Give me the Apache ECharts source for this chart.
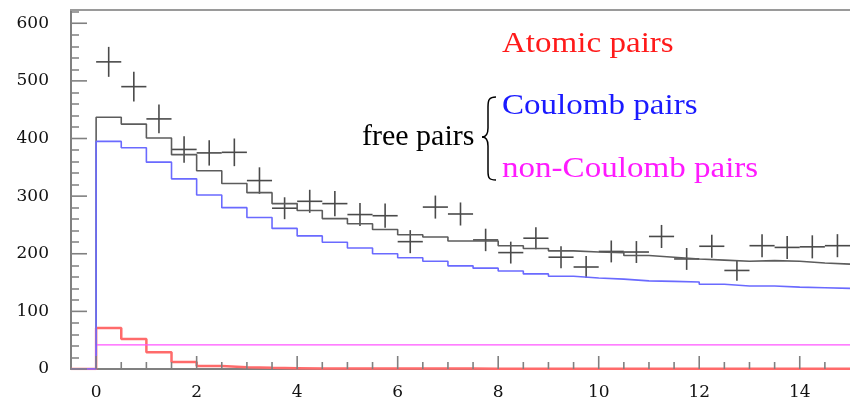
<!DOCTYPE html>
<html>
<head>
<meta charset="utf-8">
<script src="https://cdn.jsdelivr.net/npm/echarts@6/dist/echarts.min.js"></script>
<style>html,body{margin:0;padding:0;background:#fff}#c{width:850px;height:401px}</style>
</head>
<body>
<div id="c"></div>
<script>
// bin lower edges (bin width 0.5)
var binLo = [0,0.5,1,1.5,2,2.5,3,3.5,4,4.5,5,5.5,6,6.5,7,7.5,8,8.5,9,9.5,10,10.5,11,11.5,12,12.5,13,13.5,14,14.5];
var binHi = 15;
var xStart = -0.5;
// free pairs total (gray histogram)
var freeTotal = [437,425,401,372,344,322,306,287,275,261,252,242,233,229,222,222,214,209,205,203,202,197,194,191,189,187,188,187,184,182];
// Coulomb pairs (blue)
var coulomb = [395,384,359,330,302,280,263,244,231,220,210,200,193,187,179,175,170,165,161,158,156,153,152,151,147,144,144,142,141,140];
// Atomic pairs (red)
var atomic = [71,52,29,12,5,3,2,1.5,1,1,1,1,1,1,1,0.5,0.5,0.5,0.5,0.5,0.5,0.5,0.5,0.5,0.5,0.5,0.5,0.5,0.5,0.5];
// non-Coulomb pairs (magenta)
var nonCoulomb = [42,42,42,42,42,42,42,42,42,42,42,42,42,42,42,42,42,42,42,42,42,42,42,42,42,42,42,42,42,42];
// measured data points (bin centres), values and error half-heights
var dataX = [0.25,0.75,1.25,1.75,2.25,2.75,3.25,3.75,4.25,4.75,5.25,5.75,6.25,6.75,7.25,7.75,8.25,8.75,9.25,9.75,10.25,10.75,11.25,11.75,12.25,12.75,13.25,13.75,14.25,14.75];
var dataY = [533,490,434,381,375,376,327,279,291,287,268,266,221,281,269,224,202,227,194,177,204,203,230,191,213,171,214,211,212,214];
var dataErr = [26,26,25,23,22,24,23,19,20,22,20,21,20,20,20,19.5,19,19,19,19,19,19,20,19,20,18,20,20,20,20];
var halfBin = 0.25;
// axis ticks / labels
var xMajor = [0,2,4,6,8,10,12,14];
var xMinor = [0.5,1,1.5,2.5,3,3.5,4.5,5,5.5,6.5,7,7.5,8.5,9,9.5,10.5,11,11.5,12.5,13,13.5,14.5];
var yMajor = [0,100,200,300,400,500,600];
var yMinor = [20,40,60,80,120,140,160,180,220,240,260,280,320,340,360,380,420,440,460,480,520,540,560,580,620];
var yMax = 623;

function hist(vals) {
  var d = [[xStart, 0]];
  for (var i = 0; i < binLo.length; i++) d.push([binLo[i], vals[i]]);
  d.push([binHi, vals[vals.length - 1]]);
  return d;
}
var pts = dataX.map(function (x, i) { return [x, dataY[i], dataErr[i]]; });
// tick rows: [x, y, pixel width, pixel height] (drawn as thin filled bars)
var tickRows = []
  .concat(xMajor.map(function (v) { return [v, 0, 1.6, 13]; }))
  .concat(xMinor.map(function (v) { return [v, 0, 1.6, 7]; }))
  .concat(yMajor.map(function (v) { return [xStart, v, 16, 1.6]; }));

var axGray = '#808080';
var labelFont = { fontFamily: 'DejaVu Serif', fontSize: 17, color: '#111' };

var chart = echarts.init(document.getElementById('c'), null, { renderer: 'canvas' });
function lineSeries(vals, color, width) {
  return { type: 'line', step: 'end', data: hist(vals), showSymbol: false, symbol: 'none',
    lineStyle: { color: color, width: width }, xAxisIndex: 0, yAxisIndex: 0, animation: false, silent: true };
}
var xa0 = { type: 'value', position: 'bottom', min: xStart, max: binHi,
  axisLine: { show: true, onZero: false, lineStyle: { color: axGray, width: 2 } },
  axisTick: { show: false }, splitLine: { show: false },
  axisLabel: Object.assign({ show: true, margin: 15, customValues: xMajor }, labelFont) };
var xa1 = { type: 'value', position: 'top', min: xStart, max: binHi,
  axisLine: { show: true, onZero: false, lineStyle: { color: '#9a9a9a', width: 2 } },
  axisTick: { show: false }, axisLabel: { show: false }, splitLine: { show: false } };
var ya0 = { type: 'value', position: 'left', min: 0, max: yMax,
  axisLine: { show: true, onZero: false, lineStyle: { color: axGray, width: 2 } },
  axisTick: { show: false }, splitLine: { show: false },
  axisLabel: Object.assign({ show: true, margin: 22, customValues: yMajor }, labelFont) };
var ya1 = { type: 'value', position: 'left', min: 0, max: yMax,
  axisLine: { show: false, onZero: false }, axisLabel: { show: false }, splitLine: { show: false },
  axisTick: { show: true, inside: true, length: 8, customValues: yMinor, lineStyle: { color: axGray, width: 1.5 } } };

var braceStyle = { stroke: '#000', lineWidth: 1.5, fill: null };
var option = {
  animation: false,
  grid: { left: 71, right: -6, top: 10, bottom: 30, containLabel: false },
  xAxis: [xa0, xa1],
  yAxis: [ya0, ya1],
  series: [
    lineSeries(freeTotal, '#5c5c5c', 1.6),
    lineSeries(atomic, '#ff6b6b', 2.5),
    lineSeries(nonCoulomb, '#ff55ff', 1.2),
    lineSeries(coulomb, '#6a6aff', 1.6),
    { type: 'custom', xAxisIndex: 0, yAxisIndex: 0, data: tickRows, animation: false, silent: true, z: 6,
      renderItem: function (params, api) {
        var p = api.coord([api.value(0), api.value(1)]);
        var w = api.value(2), h = api.value(3);
        var isX = w < h;
        var shape = isX ? { x: p[0] - w / 2, y: p[1] - h, width: w, height: h }
                        : { x: p[0], y: p[1] - h / 2, width: w, height: h };
        return { type: 'rect', shape: shape, style: { fill: axGray } };
      } },
    { type: 'custom', xAxisIndex: 0, yAxisIndex: 0, data: pts, animation: false, silent: true,
      renderItem: function (params, api) {
        var x = api.value(0), y = api.value(1), e = api.value(2);
        var l = api.coord([x - halfBin, y]), r = api.coord([x + halfBin, y]);
        var t = api.coord([x, y + e]), b = api.coord([x, y - e]);
        var st = { stroke: '#4a4a4a', lineWidth: 1.6 };
        return { type: 'group', children: [
          { type: 'line', shape: { x1: l[0], y1: l[1], x2: r[0], y2: r[1] }, style: st },
          { type: 'line', shape: { x1: t[0], y1: t[1], x2: b[0], y2: b[1] }, style: st }
        ] };
      } }
  ],
  graphic: [
    { type: 'text', x: 502, y: 44, scaleX: 1.14, style: { text: 'Atomic pairs', x: 0, y: 0, fill: '#ff1a1a', font: '29px "Liberation Serif"', textVerticalAlign: 'middle' } },
    { type: 'text', x: 502, y: 106, scaleX: 1.14, style: { text: 'Coulomb pairs', x: 0, y: 0, fill: '#1a1aff', font: '29px "Liberation Serif"', textVerticalAlign: 'middle' } },
    { type: 'text', x: 502, y: 169, scaleX: 1.14, style: { text: 'non-Coulomb pairs', x: 0, y: 0, fill: '#ff1aff', font: '29px "Liberation Serif"', textVerticalAlign: 'middle' } },
    { type: 'text', x: 362, y: 137, style: { text: 'free pairs', x: 0, y: 0, fill: '#000', font: '30px "Liberation Serif"', textVerticalAlign: 'middle' } },
    { type: 'bezierCurve', shape: { x1: 496, y1: 97, cpx1: 489, cpy1: 97, cpx2: 488, cpy2: 100, x2: 488, y2: 107 }, style: braceStyle },
    { type: 'line', shape: { x1: 488, y1: 107, x2: 488, y2: 128 }, style: braceStyle },
    { type: 'bezierCurve', shape: { x1: 488, y1: 128, cpx1: 488, cpy1: 134, cpx2: 486, cpy2: 137, x2: 482, y2: 137 }, style: braceStyle },
    { type: 'bezierCurve', shape: { x1: 482, y1: 137, cpx1: 486, cpy1: 137, cpx2: 488, cpy2: 140, x2: 488, y2: 146 }, style: braceStyle },
    { type: 'line', shape: { x1: 488, y1: 146, x2: 488, y2: 171 }, style: braceStyle },
    { type: 'bezierCurve', shape: { x1: 488, y1: 171, cpx1: 488, cpy1: 178, cpx2: 489, cpy2: 180, x2: 496, y2: 180 }, style: braceStyle }
  ]
};
chart.setOption(option);
</script>
</body>
</html>
